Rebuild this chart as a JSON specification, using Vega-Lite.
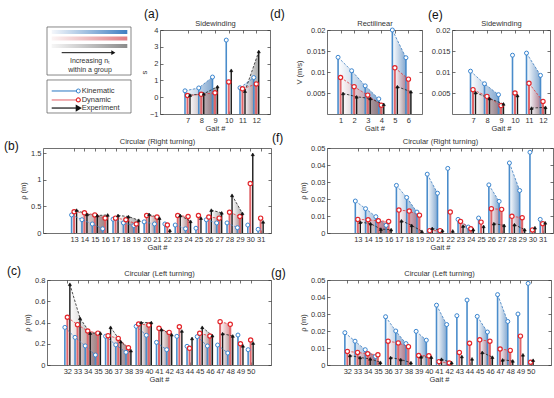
{
"$schema": "https://vega.github.io/schema/vega-lite/v6.json",
"padding": {"left": 4, "top": 7, "right": 0, "bottom": 0},
"config": {
 "font": "Liberation Sans",
 "view": {"stroke": null},
 "axis": {"grid": false, "labelFontSize": 7.5, "titleFontSize": 7.5, "titleFontWeight": "normal", "labelColor": "#333", "titleColor": "#333", "domainColor": "#333", "tickColor": "#333", "domainWidth": 0.7, "tickWidth": 0.7, "tickSize": -3, "labelPadding": 5, "labelFlush": false, "labelOverlap": false, "titlePadding": 3},
 "axisTop": {"titlePadding": 2},
 "axisBottom": {"titlePadding": 1},
 "title": {"fontSize": 12, "fontWeight": "normal", "anchor": "start", "frame": "group", "color": "#111"},
 "text": {"font": "Liberation Sans"}
},
"spacing": -1,
"vconcat": [
 {"bounds": "flush", "spacing": 0, "hconcat": [
  {"width": 4, "height": 84, "data": {"values": []}, "mark": "point"},
  {"width": 84, "height": 84,
   "data": {"values": [{"k": 1}]},
   "layer": [
    {"mark": {"type": "rect", "fill": "white", "stroke": "#555", "strokeWidth": 0.7},
     "encoding": {"x": {"datum": 0, "type": "quantitative", "scale": {"domain": [0, 1]}, "axis": null}, "x2": {"datum": 1}, "y": {"datum": -0.036, "type": "quantitative", "scale": {"domain": [0, 1], "reverse": true}, "axis": null}, "y2": {"datum": 0.536}}},
    {"mark": {"type": "rect", "fill": "white", "stroke": "#555", "strokeWidth": 0.7},
     "encoding": {"x": {"datum": 0, "type": "quantitative"}, "x2": {"datum": 1}, "y": {"datum": 0.595, "type": "quantitative"}, "y2": {"datum": 0.988}}},
    {"mark": {"type": "rect", "color": {"gradient": "linear", "x1": 0, "y1": 0, "x2": 1, "y2": 0, "stops": [{"offset": 0, "color": "#f4f7fb"}, {"offset": 1, "color": "#3f7fc2"}]}},
     "encoding": {"x": {"datum": 0.056, "type": "quantitative"}, "x2": {"datum": 0.956}, "y": {"datum": 0.0, "type": "quantitative"}, "y2": {"datum": 0.048}}},
    {"mark": {"type": "rect", "color": {"gradient": "linear", "x1": 0, "y1": 0, "x2": 1, "y2": 0, "stops": [{"offset": 0, "color": "#fbf5f5"}, {"offset": 1, "color": "#e07e84"}]}},
     "encoding": {"x": {"datum": 0.056, "type": "quantitative"}, "x2": {"datum": 0.956}, "y": {"datum": 0.077, "type": "quantitative"}, "y2": {"datum": 0.125}}},
    {"mark": {"type": "rect", "color": {"gradient": "linear", "x1": 0, "y1": 0, "x2": 1, "y2": 0, "stops": [{"offset": 0, "color": "#f6f6f6"}, {"offset": 1, "color": "#8c8c8c"}]}},
     "encoding": {"x": {"datum": 0.056, "type": "quantitative"}, "x2": {"datum": 0.956}, "y": {"datum": 0.166, "type": "quantitative"}, "y2": {"datum": 0.214}}},
    {"mark": {"type": "rule", "color": "#111", "strokeWidth": 1},
     "encoding": {"x": {"datum": 0.175, "type": "quantitative"}, "x2": {"datum": 0.78}, "y": {"datum": 0.27, "type": "quantitative"}}},
    {"mark": {"type": "point", "shape": "triangle-right", "filled": true, "color": "#111", "size": 22, "opacity": 1},
     "encoding": {"x": {"datum": 0.79, "type": "quantitative"}, "y": {"datum": 0.27, "type": "quantitative"}}},
    {"mark": {"type": "text", "text": "Increasing nₜ", "fontSize": 7, "color": "#333", "align": "center", "baseline": "middle"},
     "encoding": {"x": {"datum": 0.512, "type": "quantitative"}, "y": {"datum": 0.372, "type": "quantitative"}}},
    {"mark": {"type": "text", "text": "within a group", "fontSize": 7, "color": "#333", "align": "center", "baseline": "middle"},
     "encoding": {"x": {"datum": 0.512, "type": "quantitative"}, "y": {"datum": 0.478, "type": "quantitative"}}},
    {"mark": {"type": "rule", "color": "#4a8ccb", "strokeWidth": 1.2},
     "encoding": {"x": {"datum": 0.056, "type": "quantitative"}, "x2": {"datum": 0.373}, "y": {"datum": 0.726, "type": "quantitative"}}},
    {"mark": {"type": "rule", "color": "#e8787e", "strokeWidth": 1.2},
     "encoding": {"x": {"datum": 0.056, "type": "quantitative"}, "x2": {"datum": 0.373}, "y": {"datum": 0.833, "type": "quantitative"}}},
    {"mark": {"type": "rule", "color": "#111111", "strokeWidth": 1.2},
     "encoding": {"x": {"datum": 0.056, "type": "quantitative"}, "x2": {"datum": 0.373}, "y": {"datum": 0.929, "type": "quantitative"}}},
    {"mark": {"type": "point", "shape": "circle", "filled": true, "fill": "white", "stroke": "#3a85cf", "strokeWidth": 1, "size": 16, "opacity": 1},
     "encoding": {"x": {"datum": 0.373, "type": "quantitative"}, "y": {"datum": 0.726, "type": "quantitative"}}},
    {"mark": {"type": "point", "shape": "circle", "filled": true, "fill": "white", "stroke": "#e3262b", "strokeWidth": 1.2, "size": 16, "opacity": 1},
     "encoding": {"x": {"datum": 0.373, "type": "quantitative"}, "y": {"datum": 0.833, "type": "quantitative"}}},
    {"mark": {"type": "point", "shape": "triangle-right", "filled": true, "fill": "#111", "stroke": "#111", "size": 14, "opacity": 1},
     "encoding": {"x": {"datum": 0.373, "type": "quantitative"}, "y": {"datum": 0.929, "type": "quantitative"}}},
    {"mark": {"type": "text", "text": "Kinematic", "fontSize": 7.5, "color": "#333", "align": "left", "baseline": "middle"},
     "encoding": {"x": {"datum": 0.413, "type": "quantitative"}, "y": {"datum": 0.726, "type": "quantitative"}}},
    {"mark": {"type": "text", "text": "Dynamic", "fontSize": 7.5, "color": "#333", "align": "left", "baseline": "middle"},
     "encoding": {"x": {"datum": 0.413, "type": "quantitative"}, "y": {"datum": 0.833, "type": "quantitative"}}},
    {"mark": {"type": "text", "text": "Experiment", "fontSize": 7.5, "color": "#333", "align": "left", "baseline": "middle"},
     "encoding": {"x": {"datum": 0.413, "type": "quantitative"}, "y": {"datum": 0.929, "type": "quantitative"}}}
   ]},
  {"width": 29, "height": 84, "data": {"values": []}, "mark": "point"},
  {"width": 110, "height": 84,
   "title": {"text": "(a)", "dx": -16, "offset": -1},
   "data": {"values": [
    {"gait": 7, "grp": 1, "K": 0.38, "D": 0.1, "E": 0.12},
    {"gait": 8, "grp": 1, "K": 0.55, "D": 0.17, "E": 0.2},
    {"gait": 9, "grp": 1, "K": 1.2, "D": 0.26, "E": 0.63},
    {"gait": 10, "grp": 2, "K": 3.4, "D": 0.91, "E": 1.6},
    {"gait": 11, "grp": 3, "K": 0.56, "D": 0.5, "E": 0.36},
    {"gait": 12, "grp": 3, "K": 1.17, "D": 0.79, "E": 2.72}
   ]},
   "resolve": {"axis": {"x": "independent", "y": "independent"}},
   "layer": [
    {"mark": {"type": "area", "opacity": 0.6, "xOffset": -2.5, "color": {"gradient": "linear", "x1": 0, "y1": 0, "x2": 1, "y2": 0, "stops": [{"offset": 0, "color": "#ffffff"}, {"offset": 1, "color": "#2f6db0"}]}},
     "encoding": {"x": {"field": "gait", "type": "quantitative", "scale": {"domain": [5.25, 12.9]}, "axis": {"orient": "bottom", "values": [7, 8, 9, 10, 11, 12], "title": "Gait #"}},
      "y": {"field": "K", "type": "quantitative", "stack": null, "scale": {"domain": [-1, 4]}, "axis": {"orient": "left", "values": [-1, 0, 1, 2, 3, 4], "format": "~g", "title": "s", "titlePadding": 1}},
      "y2": {"datum": -1}, "detail": {"field": "grp", "type": "nominal"}}},
    {"mark": {"type": "area", "opacity": 0.6, "xOffset": 0, "color": {"gradient": "linear", "x1": 0, "y1": 0, "x2": 1, "y2": 0, "stops": [{"offset": 0, "color": "#ffffff"}, {"offset": 1, "color": "#c0454b"}]}},
     "encoding": {"x": {"field": "gait", "type": "quantitative", "axis": {"orient": "top", "values": [7, 8, 9, 10, 11, 12], "labels": false, "title": "Sidewinding"}},
      "y": {"field": "D", "type": "quantitative", "stack": null, "axis": {"orient": "right", "values": [-1, 0, 1, 2, 3, 4], "labels": false, "title": null}},
      "y2": {"datum": -1}, "detail": {"field": "grp", "type": "nominal"}}},
    {"mark": {"type": "area", "opacity": 0.6, "xOffset": 2.5, "color": {"gradient": "linear", "x1": 0, "y1": 0, "x2": 1, "y2": 0, "stops": [{"offset": 0, "color": "#ffffff"}, {"offset": 1, "color": "#6b6b6b"}]}},
     "encoding": {"x": {"field": "gait", "type": "quantitative", "axis": null}, "y": {"field": "E", "type": "quantitative", "stack": null, "axis": null}, "y2": {"datum": -1}, "detail": {"field": "grp", "type": "nominal"}}},
    {"mark": {"type": "rule", "color": "#4a8ccb", "strokeWidth": 1.6, "xOffset": -2.5}, "encoding": {"x": {"field": "gait", "type": "quantitative", "axis": null}, "y": {"field": "K", "type": "quantitative", "axis": null}, "y2": {"datum": -1}}},
    {"mark": {"type": "rule", "color": "#e0666b", "strokeWidth": 2, "xOffset": 0}, "encoding": {"x": {"field": "gait", "type": "quantitative", "axis": null}, "y": {"field": "D", "type": "quantitative", "axis": null}, "y2": {"datum": -1}}},
    {"mark": {"type": "rule", "color": "#1a1a1a", "strokeWidth": 1.4, "xOffset": 2.5}, "encoding": {"x": {"field": "gait", "type": "quantitative", "axis": null}, "y": {"field": "E", "type": "quantitative", "axis": null}, "y2": {"datum": -1}}},
    {"mark": {"type": "line", "color": "#3f7fc0", "strokeWidth": 0.8, "strokeDash": [2.5, 1.5], "xOffset": -2.5}, "encoding": {"x": {"field": "gait", "type": "quantitative", "axis": null}, "y": {"field": "K", "type": "quantitative", "axis": null}, "detail": {"field": "grp", "type": "nominal"}}},
    {"mark": {"type": "line", "color": "#e0383e", "strokeWidth": 0.8, "strokeDash": [2.5, 1.5], "xOffset": 0}, "encoding": {"x": {"field": "gait", "type": "quantitative", "axis": null}, "y": {"field": "D", "type": "quantitative", "axis": null}, "detail": {"field": "grp", "type": "nominal"}}},
    {"mark": {"type": "line", "color": "#222222", "strokeWidth": 0.8, "strokeDash": [2.5, 1.5], "xOffset": 2.5}, "encoding": {"x": {"field": "gait", "type": "quantitative", "axis": null}, "y": {"field": "E", "type": "quantitative", "axis": null}, "detail": {"field": "grp", "type": "nominal"}}},
    {"mark": {"type": "point", "shape": "circle", "filled": true, "fill": "white", "stroke": "#3a85cf", "strokeWidth": 1, "size": 16, "opacity": 1, "xOffset": -2.5}, "encoding": {"x": {"field": "gait", "type": "quantitative", "axis": null}, "y": {"field": "K", "type": "quantitative", "axis": null}}},
    {"mark": {"type": "point", "shape": "circle", "filled": true, "fill": "white", "stroke": "#e3262b", "strokeWidth": 1.2, "size": 18, "opacity": 1, "xOffset": 0}, "encoding": {"x": {"field": "gait", "type": "quantitative", "axis": null}, "y": {"field": "D", "type": "quantitative", "axis": null}}},
    {"mark": {"type": "point", "shape": "triangle-up", "filled": true, "fill": "#111111", "stroke": "#111111", "strokeWidth": 0.6, "size": 10, "opacity": 1, "xOffset": 2.5}, "encoding": {"x": {"field": "gait", "type": "quantitative", "axis": null}, "y": {"field": "E", "type": "quantitative", "axis": null}}}
   ]},
  {"width": 57, "height": 84, "data": {"values": []}, "mark": "point"},
  {"width": 95, "height": 84,
   "title": {"text": "(d)", "dx": -57, "offset": -1},
   "data": {"values": [
    {"gait": 1, "grp": 1, "K": 0.0135, "D": 0.0087, "E": 0.0049},
    {"gait": 2, "grp": 1, "K": 0.0103, "D": 0.0065, "E": 0.0041},
    {"gait": 3, "grp": 1, "K": 0.0067, "D": 0.0045, "E": 0.0037},
    {"gait": 4, "grp": 1, "K": 0.0036, "D": 0.0021, "E": 0.0023},
    {"gait": 5, "grp": 2, "K": 0.02, "D": 0.011, "E": 0.0065},
    {"gait": 6, "grp": 2, "K": 0.0134, "D": 0.0083, "E": 0.0053}
   ]},
   "resolve": {"axis": {"x": "independent", "y": "independent"}},
   "layer": [
    {"mark": {"type": "area", "opacity": 0.6, "xOffset": -2.5, "color": {"gradient": "linear", "x1": 0, "y1": 0, "x2": 1, "y2": 0, "stops": [{"offset": 0, "color": "#ffffff"}, {"offset": 1, "color": "#2f6db0"}]}},
     "encoding": {"x": {"field": "gait", "type": "quantitative", "scale": {"domain": [0, 6.8]}, "axis": {"orient": "bottom", "values": [1, 2, 3, 4, 5, 6], "title": "Gait #"}},
      "y": {"field": "K", "type": "quantitative", "stack": null, "scale": {"domain": [0, 0.02]}, "axis": {"orient": "left", "values": [0.005, 0.01, 0.015, 0.02], "format": "~g", "title": "V (m/s)"}},
      "y2": {"datum": 0}, "detail": {"field": "grp", "type": "nominal"}}},
    {"mark": {"type": "area", "opacity": 0.6, "xOffset": 0, "color": {"gradient": "linear", "x1": 0, "y1": 0, "x2": 1, "y2": 0, "stops": [{"offset": 0, "color": "#ffffff"}, {"offset": 1, "color": "#c0454b"}]}},
     "encoding": {"x": {"field": "gait", "type": "quantitative", "axis": {"orient": "top", "values": [1, 2, 3, 4, 5, 6], "labels": false, "title": "Rectilinear"}},
      "y": {"field": "D", "type": "quantitative", "stack": null, "axis": {"orient": "right", "values": [0.005, 0.01, 0.015, 0.02], "labels": false, "title": null}},
      "y2": {"datum": 0}, "detail": {"field": "grp", "type": "nominal"}}},
    {"mark": {"type": "area", "opacity": 0.6, "xOffset": 2.5, "color": {"gradient": "linear", "x1": 0, "y1": 0, "x2": 1, "y2": 0, "stops": [{"offset": 0, "color": "#ffffff"}, {"offset": 1, "color": "#6b6b6b"}]}},
     "encoding": {"x": {"field": "gait", "type": "quantitative", "axis": null}, "y": {"field": "E", "type": "quantitative", "stack": null, "axis": null}, "y2": {"datum": 0}, "detail": {"field": "grp", "type": "nominal"}}},
    {"mark": {"type": "rule", "color": "#4a8ccb", "strokeWidth": 1.6, "xOffset": -2.5}, "encoding": {"x": {"field": "gait", "type": "quantitative", "axis": null}, "y": {"field": "K", "type": "quantitative", "axis": null}, "y2": {"datum": 0}}},
    {"mark": {"type": "rule", "color": "#e0666b", "strokeWidth": 2, "xOffset": 0}, "encoding": {"x": {"field": "gait", "type": "quantitative", "axis": null}, "y": {"field": "D", "type": "quantitative", "axis": null}, "y2": {"datum": 0}}},
    {"mark": {"type": "rule", "color": "#1a1a1a", "strokeWidth": 1.4, "xOffset": 2.5}, "encoding": {"x": {"field": "gait", "type": "quantitative", "axis": null}, "y": {"field": "E", "type": "quantitative", "axis": null}, "y2": {"datum": 0}}},
    {"mark": {"type": "line", "color": "#3f7fc0", "strokeWidth": 0.8, "strokeDash": [2.5, 1.5], "xOffset": -2.5}, "encoding": {"x": {"field": "gait", "type": "quantitative", "axis": null}, "y": {"field": "K", "type": "quantitative", "axis": null}, "detail": {"field": "grp", "type": "nominal"}}},
    {"mark": {"type": "line", "color": "#e0383e", "strokeWidth": 0.8, "strokeDash": [2.5, 1.5], "xOffset": 0}, "encoding": {"x": {"field": "gait", "type": "quantitative", "axis": null}, "y": {"field": "D", "type": "quantitative", "axis": null}, "detail": {"field": "grp", "type": "nominal"}}},
    {"mark": {"type": "line", "color": "#222222", "strokeWidth": 0.8, "strokeDash": [2.5, 1.5], "xOffset": 2.5}, "encoding": {"x": {"field": "gait", "type": "quantitative", "axis": null}, "y": {"field": "E", "type": "quantitative", "axis": null}, "detail": {"field": "grp", "type": "nominal"}}},
    {"mark": {"type": "point", "shape": "circle", "filled": true, "fill": "white", "stroke": "#3a85cf", "strokeWidth": 1, "size": 16, "opacity": 1, "xOffset": -2.5}, "encoding": {"x": {"field": "gait", "type": "quantitative", "axis": null}, "y": {"field": "K", "type": "quantitative", "axis": null}}},
    {"mark": {"type": "point", "shape": "circle", "filled": true, "fill": "white", "stroke": "#e3262b", "strokeWidth": 1.2, "size": 18, "opacity": 1, "xOffset": 0}, "encoding": {"x": {"field": "gait", "type": "quantitative", "axis": null}, "y": {"field": "D", "type": "quantitative", "axis": null}}},
    {"mark": {"type": "point", "shape": "triangle-up", "filled": true, "fill": "#111111", "stroke": "#111111", "strokeWidth": 0.6, "size": 10, "opacity": 1, "xOffset": 2.5}, "encoding": {"x": {"field": "gait", "type": "quantitative", "axis": null}, "y": {"field": "E", "type": "quantitative", "axis": null}}}
   ]},
  {"width": 30, "height": 84, "data": {"values": []}, "mark": "point"},
  {"width": 98, "height": 84,
   "title": {"text": "(e)", "dx": -24, "offset": -2},
   "data": {"values": [
    {"gait": 7, "grp": 1, "K": 0.0102, "D": 0.0058, "E": 0.0051},
    {"gait": 8, "grp": 1, "K": 0.0072, "D": 0.0042, "E": 0.0037},
    {"gait": 9, "grp": 1, "K": 0.0046, "D": 0.002, "E": 0.0024},
    {"gait": 10, "grp": 2, "K": 0.014, "D": 0.005, "E": 0.0044},
    {"gait": 11, "grp": 3, "K": 0.0145, "D": 0.0073, "E": 0.0014},
    {"gait": 12, "grp": 3, "K": 0.0092, "D": 0.003, "E": 0.0016}
   ]},
   "resolve": {"axis": {"x": "independent", "y": "independent"}},
   "layer": [
    {"mark": {"type": "area", "opacity": 0.6, "xOffset": -2.5, "color": {"gradient": "linear", "x1": 0, "y1": 0, "x2": 1, "y2": 0, "stops": [{"offset": 0, "color": "#ffffff"}, {"offset": 1, "color": "#2f6db0"}]}},
     "encoding": {"x": {"field": "gait", "type": "quantitative", "scale": {"domain": [5.96, 12.44]}, "axis": {"orient": "bottom", "values": [7, 8, 9, 10, 11, 12], "title": "Gait #"}},
      "y": {"field": "K", "type": "quantitative", "stack": null, "scale": {"domain": [0, 0.02]}, "axis": {"orient": "left", "values": [0.005, 0.01, 0.015, 0.02], "format": "~g", "title": null}},
      "y2": {"datum": 0}, "detail": {"field": "grp", "type": "nominal"}}},
    {"mark": {"type": "area", "opacity": 0.6, "xOffset": 0, "color": {"gradient": "linear", "x1": 0, "y1": 0, "x2": 1, "y2": 0, "stops": [{"offset": 0, "color": "#ffffff"}, {"offset": 1, "color": "#c0454b"}]}},
     "encoding": {"x": {"field": "gait", "type": "quantitative", "axis": {"orient": "top", "values": [7, 8, 9, 10, 11, 12], "labels": false, "title": "Sidewinding"}},
      "y": {"field": "D", "type": "quantitative", "stack": null, "axis": {"orient": "right", "values": [0.005, 0.01, 0.015, 0.02], "labels": false, "title": null}},
      "y2": {"datum": 0}, "detail": {"field": "grp", "type": "nominal"}}},
    {"mark": {"type": "area", "opacity": 0.6, "xOffset": 2.5, "color": {"gradient": "linear", "x1": 0, "y1": 0, "x2": 1, "y2": 0, "stops": [{"offset": 0, "color": "#ffffff"}, {"offset": 1, "color": "#6b6b6b"}]}},
     "encoding": {"x": {"field": "gait", "type": "quantitative", "axis": null}, "y": {"field": "E", "type": "quantitative", "stack": null, "axis": null}, "y2": {"datum": 0}, "detail": {"field": "grp", "type": "nominal"}}},
    {"mark": {"type": "rule", "color": "#4a8ccb", "strokeWidth": 1.6, "xOffset": -2.5}, "encoding": {"x": {"field": "gait", "type": "quantitative", "axis": null}, "y": {"field": "K", "type": "quantitative", "axis": null}, "y2": {"datum": 0}}},
    {"mark": {"type": "rule", "color": "#e0666b", "strokeWidth": 2, "xOffset": 0}, "encoding": {"x": {"field": "gait", "type": "quantitative", "axis": null}, "y": {"field": "D", "type": "quantitative", "axis": null}, "y2": {"datum": 0}}},
    {"mark": {"type": "rule", "color": "#1a1a1a", "strokeWidth": 1.4, "xOffset": 2.5}, "encoding": {"x": {"field": "gait", "type": "quantitative", "axis": null}, "y": {"field": "E", "type": "quantitative", "axis": null}, "y2": {"datum": 0}}},
    {"mark": {"type": "line", "color": "#3f7fc0", "strokeWidth": 0.8, "strokeDash": [2.5, 1.5], "xOffset": -2.5}, "encoding": {"x": {"field": "gait", "type": "quantitative", "axis": null}, "y": {"field": "K", "type": "quantitative", "axis": null}, "detail": {"field": "grp", "type": "nominal"}}},
    {"mark": {"type": "line", "color": "#e0383e", "strokeWidth": 0.8, "strokeDash": [2.5, 1.5], "xOffset": 0}, "encoding": {"x": {"field": "gait", "type": "quantitative", "axis": null}, "y": {"field": "D", "type": "quantitative", "axis": null}, "detail": {"field": "grp", "type": "nominal"}}},
    {"mark": {"type": "line", "color": "#222222", "strokeWidth": 0.8, "strokeDash": [2.5, 1.5], "xOffset": 2.5}, "encoding": {"x": {"field": "gait", "type": "quantitative", "axis": null}, "y": {"field": "E", "type": "quantitative", "axis": null}, "detail": {"field": "grp", "type": "nominal"}}},
    {"mark": {"type": "point", "shape": "circle", "filled": true, "fill": "white", "stroke": "#3a85cf", "strokeWidth": 1, "size": 16, "opacity": 1, "xOffset": -2.5}, "encoding": {"x": {"field": "gait", "type": "quantitative", "axis": null}, "y": {"field": "K", "type": "quantitative", "axis": null}}},
    {"mark": {"type": "point", "shape": "circle", "filled": true, "fill": "white", "stroke": "#e3262b", "strokeWidth": 1.2, "size": 18, "opacity": 1, "xOffset": 0}, "encoding": {"x": {"field": "gait", "type": "quantitative", "axis": null}, "y": {"field": "D", "type": "quantitative", "axis": null}}},
    {"mark": {"type": "point", "shape": "triangle-up", "filled": true, "fill": "#111111", "stroke": "#111111", "strokeWidth": 0.6, "size": 10, "opacity": 1, "xOffset": 2.5}, "encoding": {"x": {"field": "gait", "type": "quantitative", "axis": null}, "y": {"field": "E", "type": "quantitative", "axis": null}}}
   ]}
 ]},
 {"spacing": 13, "vconcat": [
  {"bounds": "flush", "spacing": 56, "hconcat": [
   {"width": 228, "height": 85,
    "title": {"text": "(b)", "dx": -39, "offset": -15},
    "data": {"values": [
     {"gait": 13, "grp": 1, "K": 0.34, "D": 0.4, "E": 0.43},
     {"gait": 14, "grp": 1, "K": 0.25, "D": 0.38, "E": 0.35},
     {"gait": 15, "grp": 1, "K": 0.17, "D": 0.34, "E": 0.33},
     {"gait": 16, "grp": 1, "K": 0.08, "D": 0.28, "E": 0.34},
     {"gait": 17, "grp": 2, "K": 0.26, "D": 0.28, "E": 0.33},
     {"gait": 18, "grp": 2, "K": 0.19, "D": 0.25, "E": 0.31},
     {"gait": 19, "grp": 2, "K": 0.14, "D": 0.17, "E": 0.24},
     {"gait": 20, "grp": 3, "K": 0.21, "D": 0.33, "E": 0.35},
     {"gait": 21, "grp": 3, "K": 0.17, "D": 0.3, "E": 0.28},
     {"gait": 22, "grp": 4, "K": 0.17, "D": 0.15, "E": 0.05},
     {"gait": 23, "grp": 5, "K": 0.15, "D": 0.33, "E": 0.33},
     {"gait": 24, "grp": 5, "K": 0.08, "D": 0.31, "E": 0.22},
     {"gait": 25, "grp": 6, "K": 0.09, "D": 0.33, "E": 0.28},
     {"gait": 26, "grp": 7, "K": 0.25, "D": 0.3, "E": 0.43},
     {"gait": 27, "grp": 7, "K": 0.19, "D": 0.28, "E": 0.38},
     {"gait": 28, "grp": 8, "K": 0.19, "D": 0.39, "E": 0.71},
     {"gait": 29, "grp": 8, "K": 0.1, "D": 0.31, "E": 0.37},
     {"gait": 30, "grp": 9, "K": 0.15, "D": 0.93, "E": 1.48},
     {"gait": 31, "grp": 10, "K": 0.07, "D": 0.28, "E": 0.21}
    ]},
    "resolve": {"axis": {"x": "independent", "y": "independent"}},
    "layer": [
     {"mark": {"type": "area", "opacity": 0.6, "xOffset": -2.5, "color": {"gradient": "linear", "x1": 0, "y1": 0, "x2": 1, "y2": 0, "stops": [{"offset": 0, "color": "#ffffff"}, {"offset": 1, "color": "#2f6db0"}]}},
      "encoding": {"x": {"field": "gait", "type": "quantitative", "scale": {"domain": [11.7, 31.67]}, "axis": {"orient": "bottom", "values": [13, 14, 15, 16, 17, 18, 19, 20, 21, 22, 23, 24, 25, 26, 27, 28, 29, 30, 31], "title": "Gait #"}},
       "y": {"field": "K", "type": "quantitative", "stack": null, "scale": {"domain": [0, 1.5]}, "axis": {"orient": "left", "values": [0, 0.5, 1, 1.5], "format": "~g", "title": "ρ (m)"}},
       "y2": {"datum": 0}, "detail": {"field": "grp", "type": "nominal"}}},
     {"mark": {"type": "area", "opacity": 0.6, "xOffset": 0, "color": {"gradient": "linear", "x1": 0, "y1": 0, "x2": 1, "y2": 0, "stops": [{"offset": 0, "color": "#ffffff"}, {"offset": 1, "color": "#c0454b"}]}},
      "encoding": {"x": {"field": "gait", "type": "quantitative", "axis": {"orient": "top", "values": [13, 14, 15, 16, 17, 18, 19, 20, 21, 22, 23, 24, 25, 26, 27, 28, 29, 30, 31], "labels": false, "title": "Circular (Right turning)"}},
       "y": {"field": "D", "type": "quantitative", "stack": null, "axis": {"orient": "right", "values": [0, 0.5, 1, 1.5], "labels": false, "title": null}},
       "y2": {"datum": 0}, "detail": {"field": "grp", "type": "nominal"}}},
     {"mark": {"type": "area", "opacity": 0.6, "xOffset": 2.5, "color": {"gradient": "linear", "x1": 0, "y1": 0, "x2": 1, "y2": 0, "stops": [{"offset": 0, "color": "#ffffff"}, {"offset": 1, "color": "#6b6b6b"}]}},
      "encoding": {"x": {"field": "gait", "type": "quantitative", "axis": null}, "y": {"field": "E", "type": "quantitative", "stack": null, "axis": null}, "y2": {"datum": 0}, "detail": {"field": "grp", "type": "nominal"}}},
     {"mark": {"type": "rule", "color": "#4a8ccb", "strokeWidth": 1.6, "xOffset": -2.5}, "encoding": {"x": {"field": "gait", "type": "quantitative", "axis": null}, "y": {"field": "K", "type": "quantitative", "axis": null}, "y2": {"datum": 0}}},
     {"mark": {"type": "rule", "color": "#e0666b", "strokeWidth": 2, "xOffset": 0}, "encoding": {"x": {"field": "gait", "type": "quantitative", "axis": null}, "y": {"field": "D", "type": "quantitative", "axis": null}, "y2": {"datum": 0}}},
     {"mark": {"type": "rule", "color": "#1a1a1a", "strokeWidth": 1.4, "xOffset": 2.5}, "encoding": {"x": {"field": "gait", "type": "quantitative", "axis": null}, "y": {"field": "E", "type": "quantitative", "axis": null}, "y2": {"datum": 0}}},
     {"mark": {"type": "line", "color": "#3f7fc0", "strokeWidth": 0.8, "strokeDash": [2.5, 1.5], "xOffset": -2.5}, "encoding": {"x": {"field": "gait", "type": "quantitative", "axis": null}, "y": {"field": "K", "type": "quantitative", "axis": null}, "detail": {"field": "grp", "type": "nominal"}}},
     {"mark": {"type": "line", "color": "#e0383e", "strokeWidth": 0.8, "strokeDash": [2.5, 1.5], "xOffset": 0}, "encoding": {"x": {"field": "gait", "type": "quantitative", "axis": null}, "y": {"field": "D", "type": "quantitative", "axis": null}, "detail": {"field": "grp", "type": "nominal"}}},
     {"mark": {"type": "line", "color": "#222222", "strokeWidth": 0.8, "strokeDash": [2.5, 1.5], "xOffset": 2.5}, "encoding": {"x": {"field": "gait", "type": "quantitative", "axis": null}, "y": {"field": "E", "type": "quantitative", "axis": null}, "detail": {"field": "grp", "type": "nominal"}}},
     {"mark": {"type": "point", "shape": "circle", "filled": true, "fill": "white", "stroke": "#3a85cf", "strokeWidth": 1, "size": 16, "opacity": 1, "xOffset": -2.5}, "encoding": {"x": {"field": "gait", "type": "quantitative", "axis": null}, "y": {"field": "K", "type": "quantitative", "axis": null}}},
     {"mark": {"type": "point", "shape": "circle", "filled": true, "fill": "white", "stroke": "#e3262b", "strokeWidth": 1.2, "size": 18, "opacity": 1, "xOffset": 0}, "encoding": {"x": {"field": "gait", "type": "quantitative", "axis": null}, "y": {"field": "D", "type": "quantitative", "axis": null}}},
     {"mark": {"type": "point", "shape": "triangle-up", "filled": true, "fill": "#111111", "stroke": "#111111", "strokeWidth": 0.6, "size": 10, "opacity": 1, "xOffset": 2.5}, "encoding": {"x": {"field": "gait", "type": "quantitative", "axis": null}, "y": {"field": "E", "type": "quantitative", "axis": null}}}
    ]},
   {"width": 226, "height": 85,
    "title": {"text": "(f)", "dx": -55, "offset": -7},
    "data": {"values": [
     {"gait": 13, "grp": 1, "K": 0.0188, "D": 0.008, "E": 0.0064},
     {"gait": 14, "grp": 1, "K": 0.0143, "D": 0.0078, "E": 0.0055},
     {"gait": 15, "grp": 1, "K": 0.0096, "D": 0.0072, "E": 0.0023},
     {"gait": 16, "grp": 1, "K": 0.0045, "D": 0.0068, "E": 0.002},
     {"gait": 17, "grp": 2, "K": 0.028, "D": 0.0135, "E": 0.0072},
     {"gait": 18, "grp": 2, "K": 0.0209, "D": 0.0129, "E": 0.0045},
     {"gait": 19, "grp": 2, "K": 0.0123, "D": 0.0105, "E": 0.001},
     {"gait": 20, "grp": 3, "K": 0.0346, "D": 0.0014, "E": 0.0027},
     {"gait": 21, "grp": 3, "K": 0.0234, "D": 0.0014, "E": 0.0014},
     {"gait": 22, "grp": 4, "K": 0.038, "D": 0.0123, "E": 0.0012},
     {"gait": 23, "grp": 5, "K": 0.008, "D": 0.0068, "E": 0.0041},
     {"gait": 24, "grp": 5, "K": 0.0035, "D": 0.0025, "E": 0.002},
     {"gait": 25, "grp": 6, "K": 0.0088, "D": 0.0064, "E": 0.0039},
     {"gait": 26, "grp": 7, "K": 0.0283, "D": 0.0143, "E": 0.0055},
     {"gait": 27, "grp": 7, "K": 0.0186, "D": 0.0139, "E": 0.0045},
     {"gait": 28, "grp": 8, "K": 0.0412, "D": 0.0098, "E": 0.0049},
     {"gait": 29, "grp": 8, "K": 0.025, "D": 0.009, "E": 0.002},
     {"gait": 30, "grp": 9, "K": 0.0475, "D": 0.0018, "E": 0.0031},
     {"gait": 31, "grp": 10, "K": 0.008, "D": 0.0055, "E": 0.006}
    ]},
    "resolve": {"axis": {"x": "independent", "y": "independent"}},
    "layer": [
     {"mark": {"type": "area", "opacity": 0.6, "xOffset": -2.5, "color": {"gradient": "linear", "x1": 0, "y1": 0, "x2": 1, "y2": 0, "stops": [{"offset": 0, "color": "#ffffff"}, {"offset": 1, "color": "#2f6db0"}]}},
      "encoding": {"x": {"field": "gait", "type": "quantitative", "scale": {"domain": [11.76, 31.7]}, "axis": {"orient": "bottom", "values": [13, 14, 15, 16, 17, 18, 19, 20, 21, 22, 23, 24, 25, 26, 27, 28, 29, 30, 31], "title": "Gait #"}},
       "y": {"field": "K", "type": "quantitative", "stack": null, "scale": {"domain": [0, 0.05]}, "axis": {"orient": "left", "values": [0, 0.01, 0.02, 0.03, 0.04, 0.05], "format": "~g", "title": "ρ (m)"}},
       "y2": {"datum": 0}, "detail": {"field": "grp", "type": "nominal"}}},
     {"mark": {"type": "area", "opacity": 0.6, "xOffset": 0, "color": {"gradient": "linear", "x1": 0, "y1": 0, "x2": 1, "y2": 0, "stops": [{"offset": 0, "color": "#ffffff"}, {"offset": 1, "color": "#c0454b"}]}},
      "encoding": {"x": {"field": "gait", "type": "quantitative", "axis": {"orient": "top", "values": [13, 14, 15, 16, 17, 18, 19, 20, 21, 22, 23, 24, 25, 26, 27, 28, 29, 30, 31], "labels": false, "title": "Circular (Right turning)"}},
       "y": {"field": "D", "type": "quantitative", "stack": null, "axis": {"orient": "right", "values": [0, 0.01, 0.02, 0.03, 0.04, 0.05], "labels": false, "title": null}},
       "y2": {"datum": 0}, "detail": {"field": "grp", "type": "nominal"}}},
     {"mark": {"type": "area", "opacity": 0.6, "xOffset": 2.5, "color": {"gradient": "linear", "x1": 0, "y1": 0, "x2": 1, "y2": 0, "stops": [{"offset": 0, "color": "#ffffff"}, {"offset": 1, "color": "#6b6b6b"}]}},
      "encoding": {"x": {"field": "gait", "type": "quantitative", "axis": null}, "y": {"field": "E", "type": "quantitative", "stack": null, "axis": null}, "y2": {"datum": 0}, "detail": {"field": "grp", "type": "nominal"}}},
     {"mark": {"type": "rule", "color": "#4a8ccb", "strokeWidth": 1.6, "xOffset": -2.5}, "encoding": {"x": {"field": "gait", "type": "quantitative", "axis": null}, "y": {"field": "K", "type": "quantitative", "axis": null}, "y2": {"datum": 0}}},
     {"mark": {"type": "rule", "color": "#e0666b", "strokeWidth": 2, "xOffset": 0}, "encoding": {"x": {"field": "gait", "type": "quantitative", "axis": null}, "y": {"field": "D", "type": "quantitative", "axis": null}, "y2": {"datum": 0}}},
     {"mark": {"type": "rule", "color": "#1a1a1a", "strokeWidth": 1.4, "xOffset": 2.5}, "encoding": {"x": {"field": "gait", "type": "quantitative", "axis": null}, "y": {"field": "E", "type": "quantitative", "axis": null}, "y2": {"datum": 0}}},
     {"mark": {"type": "line", "color": "#3f7fc0", "strokeWidth": 0.8, "strokeDash": [2.5, 1.5], "xOffset": -2.5}, "encoding": {"x": {"field": "gait", "type": "quantitative", "axis": null}, "y": {"field": "K", "type": "quantitative", "axis": null}, "detail": {"field": "grp", "type": "nominal"}}},
     {"mark": {"type": "line", "color": "#e0383e", "strokeWidth": 0.8, "strokeDash": [2.5, 1.5], "xOffset": 0}, "encoding": {"x": {"field": "gait", "type": "quantitative", "axis": null}, "y": {"field": "D", "type": "quantitative", "axis": null}, "detail": {"field": "grp", "type": "nominal"}}},
     {"mark": {"type": "line", "color": "#222222", "strokeWidth": 0.8, "strokeDash": [2.5, 1.5], "xOffset": 2.5}, "encoding": {"x": {"field": "gait", "type": "quantitative", "axis": null}, "y": {"field": "E", "type": "quantitative", "axis": null}, "detail": {"field": "grp", "type": "nominal"}}},
     {"mark": {"type": "point", "shape": "circle", "filled": true, "fill": "white", "stroke": "#3a85cf", "strokeWidth": 1, "size": 16, "opacity": 1, "xOffset": -2.5}, "encoding": {"x": {"field": "gait", "type": "quantitative", "axis": null}, "y": {"field": "K", "type": "quantitative", "axis": null}}},
     {"mark": {"type": "point", "shape": "circle", "filled": true, "fill": "white", "stroke": "#e3262b", "strokeWidth": 1.2, "size": 18, "opacity": 1, "xOffset": 0}, "encoding": {"x": {"field": "gait", "type": "quantitative", "axis": null}, "y": {"field": "D", "type": "quantitative", "axis": null}}},
     {"mark": {"type": "point", "shape": "triangle-up", "filled": true, "fill": "#111111", "stroke": "#111111", "strokeWidth": 0.6, "size": 10, "opacity": 1, "xOffset": 2.5}, "encoding": {"x": {"field": "gait", "type": "quantitative", "axis": null}, "y": {"field": "E", "type": "quantitative", "axis": null}}}
    ]}
  ]},
  {"bounds": "flush", "spacing": 0, "hconcat": [
   {"width": 4, "height": 85, "data": {"values": []}, "mark": "point"},
   {"width": 224, "height": 85,
    "title": {"text": "(c)", "dx": -40, "offset": -8},
    "data": {"values": [
     {"gait": 32, "grp": 1, "K": 0.354, "D": 0.449, "E": 0.76},
     {"gait": 33, "grp": 1, "K": 0.26, "D": 0.38, "E": 0.44},
     {"gait": 34, "grp": 1, "K": 0.18, "D": 0.32, "E": 0.3},
     {"gait": 35, "grp": 1, "K": 0.094, "D": 0.3, "E": 0.3},
     {"gait": 36, "grp": 2, "K": 0.27, "D": 0.276, "E": 0.355},
     {"gait": 37, "grp": 2, "K": 0.19, "D": 0.25, "E": 0.22},
     {"gait": 38, "grp": 2, "K": 0.12, "D": 0.163, "E": 0.135},
     {"gait": 39, "grp": 3, "K": 0.364, "D": 0.386, "E": 0.4},
     {"gait": 40, "grp": 3, "K": 0.28, "D": 0.376, "E": 0.4},
     {"gait": 41, "grp": 4, "K": 0.213, "D": 0.345, "E": 0.333},
     {"gait": 42, "grp": 4, "K": 0.144, "D": 0.307, "E": 0.285},
     {"gait": 43, "grp": 5, "K": 0.27, "D": 0.36, "E": 0.32},
     {"gait": 44, "grp": 6, "K": 0.176, "D": 0.157, "E": 0.25},
     {"gait": 45, "grp": 7, "K": 0.267, "D": 0.298, "E": 0.355},
     {"gait": 46, "grp": 7, "K": 0.179, "D": 0.273, "E": 0.276},
     {"gait": 47, "grp": 8, "K": 0.188, "D": 0.408, "E": 0.295},
     {"gait": 48, "grp": 8, "K": 0.113, "D": 0.383, "E": 0.273},
     {"gait": 49, "grp": 9, "K": 0.282, "D": 0.2, "E": 0.18},
     {"gait": 50, "grp": 10, "K": 0.144, "D": 0.235, "E": 0.207}
    ]},
    "resolve": {"axis": {"x": "independent", "y": "independent"}},
    "layer": [
     {"mark": {"type": "area", "opacity": 0.6, "xOffset": -2.5, "color": {"gradient": "linear", "x1": 0, "y1": 0, "x2": 1, "y2": 0, "stops": [{"offset": 0, "color": "#ffffff"}, {"offset": 1, "color": "#2f6db0"}]}},
      "encoding": {"x": {"field": "gait", "type": "quantitative", "scale": {"domain": [30.9, 50.86]}, "axis": {"orient": "bottom", "values": [32, 33, 34, 35, 36, 37, 38, 39, 40, 41, 42, 43, 44, 45, 46, 47, 48, 49, 50], "title": "Gait #"}},
       "y": {"field": "K", "type": "quantitative", "stack": null, "scale": {"domain": [0, 0.8]}, "axis": {"orient": "left", "values": [0, 0.2, 0.4, 0.6, 0.8], "format": "~g", "title": "ρ (m)"}},
       "y2": {"datum": 0}, "detail": {"field": "grp", "type": "nominal"}}},
     {"mark": {"type": "area", "opacity": 0.6, "xOffset": 0, "color": {"gradient": "linear", "x1": 0, "y1": 0, "x2": 1, "y2": 0, "stops": [{"offset": 0, "color": "#ffffff"}, {"offset": 1, "color": "#c0454b"}]}},
      "encoding": {"x": {"field": "gait", "type": "quantitative", "axis": {"orient": "top", "values": [32, 33, 34, 35, 36, 37, 38, 39, 40, 41, 42, 43, 44, 45, 46, 47, 48, 49, 50], "labels": false, "title": "Circular (Left turning)"}},
       "y": {"field": "D", "type": "quantitative", "stack": null, "axis": {"orient": "right", "values": [0, 0.2, 0.4, 0.6, 0.8], "labels": false, "title": null}},
       "y2": {"datum": 0}, "detail": {"field": "grp", "type": "nominal"}}},
     {"mark": {"type": "area", "opacity": 0.6, "xOffset": 2.5, "color": {"gradient": "linear", "x1": 0, "y1": 0, "x2": 1, "y2": 0, "stops": [{"offset": 0, "color": "#ffffff"}, {"offset": 1, "color": "#6b6b6b"}]}},
      "encoding": {"x": {"field": "gait", "type": "quantitative", "axis": null}, "y": {"field": "E", "type": "quantitative", "stack": null, "axis": null}, "y2": {"datum": 0}, "detail": {"field": "grp", "type": "nominal"}}},
     {"mark": {"type": "rule", "color": "#4a8ccb", "strokeWidth": 1.6, "xOffset": -2.5}, "encoding": {"x": {"field": "gait", "type": "quantitative", "axis": null}, "y": {"field": "K", "type": "quantitative", "axis": null}, "y2": {"datum": 0}}},
     {"mark": {"type": "rule", "color": "#e0666b", "strokeWidth": 2, "xOffset": 0}, "encoding": {"x": {"field": "gait", "type": "quantitative", "axis": null}, "y": {"field": "D", "type": "quantitative", "axis": null}, "y2": {"datum": 0}}},
     {"mark": {"type": "rule", "color": "#1a1a1a", "strokeWidth": 1.4, "xOffset": 2.5}, "encoding": {"x": {"field": "gait", "type": "quantitative", "axis": null}, "y": {"field": "E", "type": "quantitative", "axis": null}, "y2": {"datum": 0}}},
     {"mark": {"type": "line", "color": "#3f7fc0", "strokeWidth": 0.8, "strokeDash": [2.5, 1.5], "xOffset": -2.5}, "encoding": {"x": {"field": "gait", "type": "quantitative", "axis": null}, "y": {"field": "K", "type": "quantitative", "axis": null}, "detail": {"field": "grp", "type": "nominal"}}},
     {"mark": {"type": "line", "color": "#e0383e", "strokeWidth": 0.8, "strokeDash": [2.5, 1.5], "xOffset": 0}, "encoding": {"x": {"field": "gait", "type": "quantitative", "axis": null}, "y": {"field": "D", "type": "quantitative", "axis": null}, "detail": {"field": "grp", "type": "nominal"}}},
     {"mark": {"type": "line", "color": "#222222", "strokeWidth": 0.8, "strokeDash": [2.5, 1.5], "xOffset": 2.5}, "encoding": {"x": {"field": "gait", "type": "quantitative", "axis": null}, "y": {"field": "E", "type": "quantitative", "axis": null}, "detail": {"field": "grp", "type": "nominal"}}},
     {"mark": {"type": "point", "shape": "circle", "filled": true, "fill": "white", "stroke": "#3a85cf", "strokeWidth": 1, "size": 16, "opacity": 1, "xOffset": -2.5}, "encoding": {"x": {"field": "gait", "type": "quantitative", "axis": null}, "y": {"field": "K", "type": "quantitative", "axis": null}}},
     {"mark": {"type": "point", "shape": "circle", "filled": true, "fill": "white", "stroke": "#e3262b", "strokeWidth": 1.2, "size": 18, "opacity": 1, "xOffset": 0}, "encoding": {"x": {"field": "gait", "type": "quantitative", "axis": null}, "y": {"field": "D", "type": "quantitative", "axis": null}}},
     {"mark": {"type": "point", "shape": "triangle-up", "filled": true, "fill": "#111111", "stroke": "#111111", "strokeWidth": 0.6, "size": 10, "opacity": 1, "xOffset": 2.5}, "encoding": {"x": {"field": "gait", "type": "quantitative", "axis": null}, "y": {"field": "E", "type": "quantitative", "axis": null}}}
    ]},
   {"width": 56, "height": 85, "data": {"values": []}, "mark": "point"},
   {"width": 224, "height": 85,
    "title": {"text": "(g)", "dx": -56, "offset": -10},
    "data": {"values": [
     {"gait": 32, "grp": 1, "K": 0.019, "D": 0.008, "E": 0.0056},
     {"gait": 33, "grp": 1, "K": 0.014, "D": 0.0074, "E": 0.0044},
     {"gait": 34, "grp": 1, "K": 0.009, "D": 0.0066, "E": 0.0036},
     {"gait": 35, "grp": 1, "K": 0.005, "D": 0.006, "E": 0.0016},
     {"gait": 36, "grp": 2, "K": 0.0284, "D": 0.014, "E": 0.0044},
     {"gait": 37, "grp": 2, "K": 0.02, "D": 0.013, "E": 0.0032},
     {"gait": 38, "grp": 2, "K": 0.0126, "D": 0.0108, "E": 0.0014},
     {"gait": 39, "grp": 3, "K": 0.0198, "D": 0.0056, "E": 0.0048},
     {"gait": 40, "grp": 3, "K": 0.0146, "D": 0.0054, "E": 0.0046},
     {"gait": 41, "grp": 4, "K": 0.0352, "D": 0.002, "E": 0.0034},
     {"gait": 42, "grp": 4, "K": 0.0238, "D": 0.0012, "E": 0.0014},
     {"gait": 43, "grp": 5, "K": 0.029, "D": 0.0074, "E": 0.005},
     {"gait": 44, "grp": 6, "K": 0.0382, "D": 0.0128, "E": 0.0036},
     {"gait": 45, "grp": 7, "K": 0.0286, "D": 0.0148, "E": 0.0074},
     {"gait": 46, "grp": 7, "K": 0.0194, "D": 0.014, "E": 0.0046},
     {"gait": 47, "grp": 8, "K": 0.0414, "D": 0.0094, "E": 0.003},
     {"gait": 48, "grp": 8, "K": 0.0256, "D": 0.0086, "E": 0.0024},
     {"gait": 49, "grp": 9, "K": 0.03, "D": 0.017, "E": 0.006},
     {"gait": 50, "grp": 10, "K": 0.048, "D": 0.0016, "E": 0.0028}
    ]},
    "resolve": {"axis": {"x": "independent", "y": "independent"}},
    "layer": [
     {"mark": {"type": "area", "opacity": 0.6, "xOffset": -2.5, "color": {"gradient": "linear", "x1": 0, "y1": 0, "x2": 1, "y2": 0, "stops": [{"offset": 0, "color": "#ffffff"}, {"offset": 1, "color": "#2f6db0"}]}},
      "encoding": {"x": {"field": "gait", "type": "quantitative", "scale": {"domain": [30.73, 51.0]}, "axis": {"orient": "bottom", "values": [32, 33, 34, 35, 36, 37, 38, 39, 40, 41, 42, 43, 44, 45, 46, 47, 48, 49, 50], "title": "Gait #"}},
       "y": {"field": "K", "type": "quantitative", "stack": null, "scale": {"domain": [0, 0.05]}, "axis": {"orient": "left", "values": [0, 0.01, 0.02, 0.03, 0.04, 0.05], "format": "~g", "title": "ρ (m)"}},
       "y2": {"datum": 0}, "detail": {"field": "grp", "type": "nominal"}}},
     {"mark": {"type": "area", "opacity": 0.6, "xOffset": 0, "color": {"gradient": "linear", "x1": 0, "y1": 0, "x2": 1, "y2": 0, "stops": [{"offset": 0, "color": "#ffffff"}, {"offset": 1, "color": "#c0454b"}]}},
      "encoding": {"x": {"field": "gait", "type": "quantitative", "axis": {"orient": "top", "values": [32, 33, 34, 35, 36, 37, 38, 39, 40, 41, 42, 43, 44, 45, 46, 47, 48, 49, 50], "labels": false, "title": "Circular (Left turning)"}},
       "y": {"field": "D", "type": "quantitative", "stack": null, "axis": {"orient": "right", "values": [0, 0.01, 0.02, 0.03, 0.04, 0.05], "labels": false, "title": null}},
       "y2": {"datum": 0}, "detail": {"field": "grp", "type": "nominal"}}},
     {"mark": {"type": "area", "opacity": 0.6, "xOffset": 2.5, "color": {"gradient": "linear", "x1": 0, "y1": 0, "x2": 1, "y2": 0, "stops": [{"offset": 0, "color": "#ffffff"}, {"offset": 1, "color": "#6b6b6b"}]}},
      "encoding": {"x": {"field": "gait", "type": "quantitative", "axis": null}, "y": {"field": "E", "type": "quantitative", "stack": null, "axis": null}, "y2": {"datum": 0}, "detail": {"field": "grp", "type": "nominal"}}},
     {"mark": {"type": "rule", "color": "#4a8ccb", "strokeWidth": 1.6, "xOffset": -2.5}, "encoding": {"x": {"field": "gait", "type": "quantitative", "axis": null}, "y": {"field": "K", "type": "quantitative", "axis": null}, "y2": {"datum": 0}}},
     {"mark": {"type": "rule", "color": "#e0666b", "strokeWidth": 2, "xOffset": 0}, "encoding": {"x": {"field": "gait", "type": "quantitative", "axis": null}, "y": {"field": "D", "type": "quantitative", "axis": null}, "y2": {"datum": 0}}},
     {"mark": {"type": "rule", "color": "#1a1a1a", "strokeWidth": 1.4, "xOffset": 2.5}, "encoding": {"x": {"field": "gait", "type": "quantitative", "axis": null}, "y": {"field": "E", "type": "quantitative", "axis": null}, "y2": {"datum": 0}}},
     {"mark": {"type": "line", "color": "#3f7fc0", "strokeWidth": 0.8, "strokeDash": [2.5, 1.5], "xOffset": -2.5}, "encoding": {"x": {"field": "gait", "type": "quantitative", "axis": null}, "y": {"field": "K", "type": "quantitative", "axis": null}, "detail": {"field": "grp", "type": "nominal"}}},
     {"mark": {"type": "line", "color": "#e0383e", "strokeWidth": 0.8, "strokeDash": [2.5, 1.5], "xOffset": 0}, "encoding": {"x": {"field": "gait", "type": "quantitative", "axis": null}, "y": {"field": "D", "type": "quantitative", "axis": null}, "detail": {"field": "grp", "type": "nominal"}}},
     {"mark": {"type": "line", "color": "#222222", "strokeWidth": 0.8, "strokeDash": [2.5, 1.5], "xOffset": 2.5}, "encoding": {"x": {"field": "gait", "type": "quantitative", "axis": null}, "y": {"field": "E", "type": "quantitative", "axis": null}, "detail": {"field": "grp", "type": "nominal"}}},
     {"mark": {"type": "point", "shape": "circle", "filled": true, "fill": "white", "stroke": "#3a85cf", "strokeWidth": 1, "size": 16, "opacity": 1, "xOffset": -2.5}, "encoding": {"x": {"field": "gait", "type": "quantitative", "axis": null}, "y": {"field": "K", "type": "quantitative", "axis": null}}},
     {"mark": {"type": "point", "shape": "circle", "filled": true, "fill": "white", "stroke": "#e3262b", "strokeWidth": 1.2, "size": 18, "opacity": 1, "xOffset": 0}, "encoding": {"x": {"field": "gait", "type": "quantitative", "axis": null}, "y": {"field": "D", "type": "quantitative", "axis": null}}},
     {"mark": {"type": "point", "shape": "triangle-up", "filled": true, "fill": "#111111", "stroke": "#111111", "strokeWidth": 0.6, "size": 10, "opacity": 1, "xOffset": 2.5}, "encoding": {"x": {"field": "gait", "type": "quantitative", "axis": null}, "y": {"field": "E", "type": "quantitative", "axis": null}}}
    ]}
  ]}
 ]}
]
}
